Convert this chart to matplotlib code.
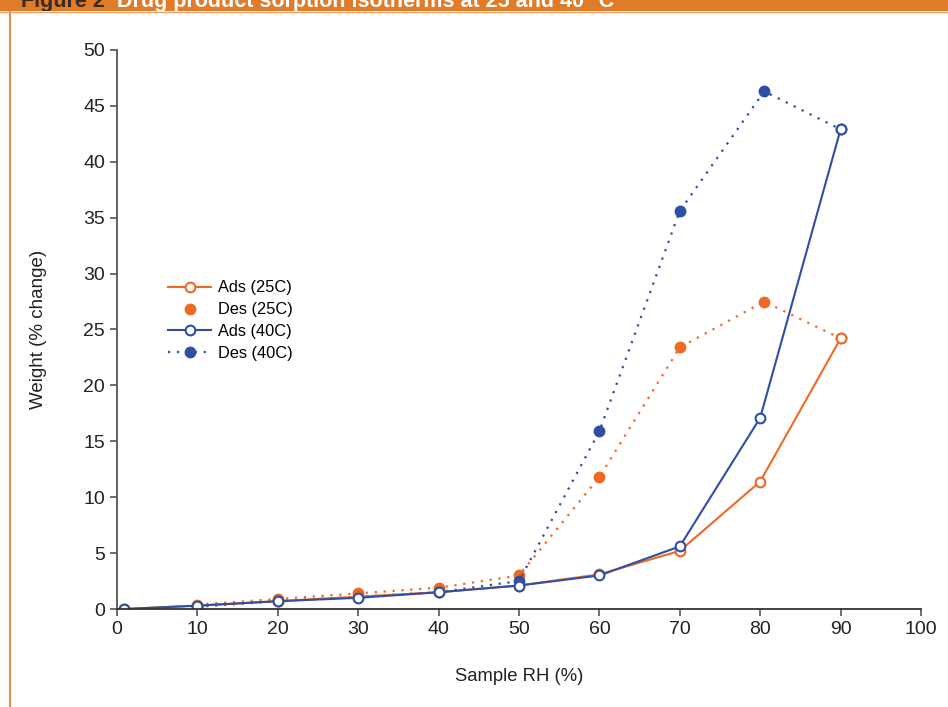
import matplotlib.pyplot as plt
from matplotlib.lines import Line2D

plt.rcParams['font.family'] = ['Liberation Sans', 'DejaVu Sans']

orange = '#ee6a24'
blue = '#2f4ea6'

# sample RH (%)
rh_ads = [0.9, 10, 20, 30, 40, 50, 60, 70, 80, 90]
rh_des = [10, 20, 30, 40, 50, 60, 70, 80.5, 90]

ads_25 = [0.0, 0.3, 0.7, 1.1, 1.5, 2.1, 3.1, 5.2, 11.4, 24.2]
des_25 = [0.4, 0.9, 1.4, 1.9, 3.0, 11.8, 23.4, 27.5, 24.2]
ads_40 = [0.0, 0.3, 0.7, 1.0, 1.5, 2.1, 3.0, 5.6, 17.1, 42.9]
des_40 = [0.2, 0.7, 1.1, 1.5, 2.5, 15.9, 35.6, 46.3, 42.9]

fig = plt.figure(figsize=(9.48, 7.07), dpi=100)
ax = fig.add_axes([0.1234, 0.1386, 0.8481, 0.7907])

dot = (0, (1, 3))
ax.plot(rh_des, des_25, color=orange, linestyle=dot, linewidth=1.6,
        marker='o', markersize=7.5, label='Des (25C)')
ax.plot(rh_des, des_40, color=blue, linestyle=dot, linewidth=1.6,
        marker='o', markersize=7.5, label='Des (40C)')
ax.plot(rh_ads, ads_25, color=orange, linewidth=1.5, marker='o', markersize=7,
        markerfacecolor='white', markeredgewidth=1.5, label='Ads (25C)')
ax.plot(rh_ads, ads_40, color=blue, linewidth=1.5, marker='o', markersize=7,
        markerfacecolor='white', markeredgewidth=1.5, label='Ads (40C)')

ax.set_xlim(0, 100)
ax.set_ylim(0, 50)
ax.set_xticks(range(0, 101, 10))
ax.set_yticks(range(0, 51, 5))
for s in ['top', 'right']:
    ax.spines[s].set_visible(False)
for s in ['left', 'bottom']:
    ax.spines[s].set_color('#555555')
    ax.spines[s].set_linewidth(1.3)
ax.spines['bottom'].set_color('#333333')
ax.tick_params(labelsize=14, length=5, width=1.2, color='#555555', labelcolor='#222222')
ax.set_xlabel('Sample RH (%)', fontsize=13.3, color='#222222', labelpad=22)
ax.set_ylabel('Weight (% change)', fontsize=13.5, color='#222222', labelpad=26)

# legend order as in the picture; Des (25C) shows only the marker
h = {l.get_label(): l for l in ax.get_lines()}
des25_handle = Line2D([], [], color=orange, linestyle='none', marker='o', markersize=7.5)
handles = [h['Ads (25C)'], des25_handle, h['Ads (40C)'], h['Des (40C)']]
labels = ['Ads (25C)', 'Des (25C)', 'Ads (40C)', 'Des (40C)']
fig.legend(handles, labels, loc='upper left', bbox_to_anchor=(0.169, 0.615),
           frameon=False, fontsize=11.8, handlelength=2.6, handletextpad=0.4,
           labelspacing=0.42, borderpad=0)

# cut-off header bar and page border
hdr = fig.add_axes([0, 1 - 11 / 707, 1, 11 / 707])
hdr.set_zorder(3)
hdr.set_facecolor('#e07b2a')
hdr.set_xticks([])
hdr.set_yticks([])
for s in hdr.spines.values():
    s.set_visible(False)
hdr.text(0.022, 0.36, 'Figure 2', fontsize=15.5, fontweight='bold', color='#3a2a20',
         va='baseline', transform=hdr.transAxes, clip_on=True)
hdr.text(0.123, 0.36, 'Drug product sorption isotherms at 25 and 40 °C',
         fontsize=15.5, fontweight='bold', color='white', va='baseline',
         transform=hdr.transAxes, clip_on=True)
fig.add_artist(Line2D([0, 1], [1 - 11.5 / 707] * 2, transform=fig.transFigure,
                      color='#eea060', linewidth=1, zorder=4))
fig.add_artist(Line2D([9.5 / 948] * 2, [0, 1 - 11 / 707], transform=fig.transFigure,
                      color='#e58a45', linewidth=1.5))

fig.savefig('out.png', dpi=100)
